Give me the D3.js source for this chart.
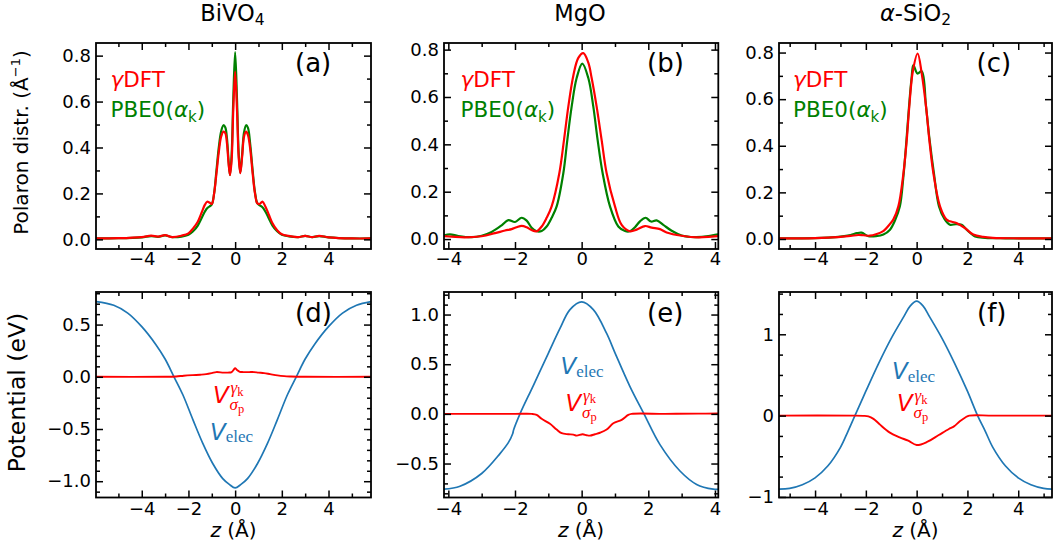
<!DOCTYPE html>
<html>
<head>
<meta charset="utf-8">
<script src="https://cdn.jsdelivr.net/npm/d3@7"></script>
<style>
  body { margin: 0; background: #fff; }
  svg { display: block; font-family: "DejaVu Sans", sans-serif; }
</style>
</head>
<body>
<svg id="fig" width="1058" height="551"></svg>
<script>
// ---------- Polaron distribution (top row), z in Å ----------
// BiVO4: both functionals sampled on the same z grid
const zBiVO4Dist = [-5.95, -5.0, -4.0, -3.6, -3.3, -3.0, -2.7, -2.3, -2.0, -1.8,
  -1.6, -1.45, -1.3, -1.2, -1.1, -1.0, -0.9, -0.8, -0.7, -0.6,
  -0.5, -0.42, -0.35, -0.28, -0.22, -0.15, -0.08, 0, 0.08, 0.15,
  0.22, 0.3, 0.38, 0.47, 0.55, 0.65, 0.75, 0.85, 0.95, 1.05,
  1.17, 1.3, 1.45, 1.6, 1.8, 2.0, 2.3, 2.7, 3.0, 3.3,
  3.6, 4.0, 5.0, 5.82];
const gammaBiVO4 = [0.004, 0.005, 0.010, 0.016, 0.012, 0.018, 0.010, 0.016, 0.026, 0.048,
  0.077, 0.113, 0.150, 0.164, 0.160, 0.154, 0.200, 0.287, 0.380, 0.447,
  0.469, 0.462, 0.418, 0.330, 0.280, 0.345, 0.563, 0.730, 0.563, 0.360,
  0.288, 0.360, 0.447, 0.469, 0.454, 0.390, 0.287, 0.200, 0.157, 0.154,
  0.164, 0.142, 0.106, 0.070, 0.040, 0.022, 0.015, 0.010, 0.015, 0.010,
  0.015, 0.009, 0.004, 0.004];
const pbe0BiVO4 = [0.004, 0.005, 0.009, 0.014, 0.011, 0.017, 0.010, 0.012, 0.020, 0.035,
  0.060, 0.090, 0.120, 0.135, 0.143, 0.152, 0.200, 0.300, 0.400, 0.470,
  0.497, 0.487, 0.440, 0.340, 0.280, 0.370, 0.610, 0.815, 0.610, 0.380,
  0.290, 0.370, 0.465, 0.497, 0.485, 0.410, 0.300, 0.205, 0.157, 0.148,
  0.140, 0.120, 0.090, 0.060, 0.035, 0.020, 0.013, 0.010, 0.015, 0.010,
  0.014, 0.009, 0.004, 0.004];

// MgO
const zMgOGamma = [-4.13, -3.9, -3.5, -3.0, -2.6, -2.3, -2.1, -1.95, -1.8, -1.65,
  -1.5, -1.35, -1.2, -1.05, -0.9, -0.67, -0.53, -0.4, -0.25, -0.1,
  0.05, 0.2, 0.3, 0.45, 0.6, 0.75, 1.0, 1.2, 1.45, 1.65,
  1.9, 2.1, 2.35, 2.55, 3.0, 3.5, 3.9, 4.1];
const gammaMgO = [0.012, 0.010, 0.007, 0.012, 0.025, 0.036, 0.042, 0.050, 0.056, 0.050,
  0.038, 0.033, 0.053, 0.090, 0.138, 0.278, 0.418, 0.559, 0.690, 0.765,
  0.785, 0.745, 0.680, 0.559, 0.418, 0.278, 0.138, 0.060, 0.033, 0.040,
  0.055, 0.048, 0.042, 0.028, 0.014, 0.007, 0.010, 0.012];
const zMgOPbe0 = [-4.13, -3.95, -3.7, -3.3, -3.0, -2.7, -2.4, -2.2, -2.0, -1.8,
  -1.65, -1.5, -1.35, -1.2, -1.05, -0.9, -0.75, -0.55, -0.43, -0.3,
  -0.15, 0.02, 0.2, 0.35, 0.48, 0.63, 0.85, 1.1, 1.3, 1.45,
  1.6, 1.75, 1.92, 2.08, 2.25, 2.45, 2.7, 3.0, 3.4, 3.8,
  4.0, 4.1];
const pbe0MgO = [0.015, 0.020, 0.013, 0.008, 0.014, 0.030, 0.058, 0.080, 0.072, 0.090,
  0.078, 0.048, 0.033, 0.034, 0.053, 0.090, 0.138, 0.278, 0.418, 0.559,
  0.680, 0.741, 0.680, 0.559, 0.418, 0.278, 0.138, 0.053, 0.034, 0.033,
  0.050, 0.075, 0.090, 0.074, 0.079, 0.060, 0.035, 0.015, 0.008, 0.012,
  0.018, 0.020];

// alpha-SiO2
const zSiO2Gamma = [-5.42, -4.5, -4.0, -3.5, -3.0, -2.6, -2.3, -2.1, -1.85, -1.6,
  -1.3, -1.1, -0.92, -0.72, -0.52, -0.39, -0.29, -0.15, 0.04, 0.2,
  0.37, 0.5, 0.66, 0.92, 1.18, 1.31, 1.57, 1.9, 2.23, 2.62,
  3.0, 4.0, 5.33];
const gammaSiO2 = [0.003, 0.003, 0.004, 0.006, 0.009, 0.013, 0.017, 0.016, 0.014, 0.020,
  0.035, 0.058, 0.083, 0.140, 0.282, 0.425, 0.568, 0.720, 0.796, 0.710,
  0.568, 0.425, 0.282, 0.140, 0.083, 0.076, 0.068, 0.047, 0.019, 0.009,
  0.005, 0.003, 0.003];
const zSiO2Pbe0 = [-5.42, -4.0, -3.5, -3.0, -2.6, -2.35, -2.17, -1.9, -1.6, -1.31,
  -1.05, -0.85, -0.66, -0.52, -0.4, -0.3, -0.2, -0.13, 0.03, 0.2,
  0.37, 0.51, 0.68, 0.88, 1.1, 1.31, 1.55, 1.77, 1.97, 2.3,
  2.7, 3.5, 5.33];
const pbe0SiO2 = [0.003, 0.004, 0.006, 0.010, 0.017, 0.025, 0.027, 0.012, 0.012, 0.019,
  0.040, 0.080, 0.140, 0.270, 0.425, 0.568, 0.690, 0.746, 0.710, 0.720,
  0.568, 0.425, 0.282, 0.140, 0.085, 0.061, 0.064, 0.061, 0.040, 0.011,
  0.005, 0.003, 0.003];

// ---------- Potentials (bottom row), eV ----------
const zBiVO4Elec = [-5.96, -5.2, -4.6, -4.0, -3.4, -3.0, -2.62, -2.24, -1.81, -1.39,
  -0.96, -0.53, -0.25, 0, 0.25, 0.53, 0.96, 1.39, 1.81, 2.24,
  2.62, 3.0, 3.4, 4.0, 4.6, 5.2, 5.82];
const elecBiVO4 = [0.72, 0.685, 0.61, 0.48, 0.31, 0.17, 0, -0.172, -0.41, -0.635,
  -0.83, -0.975, -1.03, -1.064, -1.03, -0.975, -0.83, -0.635, -0.41, -0.172,
  0, 0.17, 0.31, 0.48, 0.61, 0.685, 0.72];
const zBiVO4Sigma = [-5.96, -3.0, -2.53, -2.2, -1.81, -1.5, -1.24, -1.0, -0.81, -0.5,
  -0.3, -0.15, -0.05, 0, 0.08, 0.2, 0.35, 0.6, 0.81, 1.0,
  1.24, 1.5, 1.81, 2.1, 2.39, 3.0, 5.82];
const sigmaBiVO4 = [0, 0, 0.003, 0.010, 0.016, 0.020, 0.025, 0.035, 0.045, 0.040,
  0.040, 0.045, 0.070, 0.083, 0.065, 0.048, 0.045, 0.045, 0.045, 0.040,
  0.035, 0.025, 0.013, 0.006, 0.003, 0, 0];

const zMgOElec = [-4.13, -3.65, -3.0, -2.45, -2.2, -2.07, -2.04, -1.85, -1.45, -1.0,
  -0.65, -0.35, 0, 0.35, 0.75, 1.0, 1.45, 1.87, 2.35, 2.95,
  3.45, 3.95, 4.1];
const elecMgO = [-0.758, -0.728, -0.6, -0.4, -0.29, -0.2, -0.16, 0, 0.285, 0.61,
  0.86, 1.05, 1.128, 1.05, 0.81, 0.615, 0.275, 0, -0.31, -0.575,
  -0.71, -0.758, -0.76];
const zMgOSigma = [-4.13, -2.0, -1.5, -1.35, -1.2, -0.95, -0.75, -0.6, -0.4, -0.25,
  -0.15, 0.03, 0.15, 0.25, 0.4, 0.55, 0.75, 0.95, 1.2, 1.4,
  1.5, 2.5, 3.5, 4.1];
const sigmaMgO = [0, 0, 0, -0.01, -0.05, -0.1, -0.158, -0.195, -0.205, -0.209,
  -0.219, -0.205, -0.215, -0.219, -0.205, -0.19, -0.158, -0.094, -0.06, -0.01,
  0, 0, 0.002, 0.003];

const zSiO2Elec = [-5.42, -5.0, -4.5, -4.0, -3.5, -3.0, -2.7, -2.43, -2.0, -1.5,
  -1.0, -0.5, -0.25, 0, 0.25, 0.5, 1.0, 1.5, 2.0, 2.4,
  2.7, 3.0, 3.5, 4.0, 4.5, 5.0, 5.33];
const elecSiO2 = [-0.905, -0.895, -0.85, -0.765, -0.62, -0.39, -0.19, 0, 0.3, 0.64,
  0.95, 1.22, 1.35, 1.407, 1.35, 1.22, 0.95, 0.64, 0.3, 0,
  -0.19, -0.39, -0.62, -0.765, -0.85, -0.895, -0.905];
const zSiO2Sigma = [-5.42, -2.5, -2.1, -1.9, -1.7, -1.47, -1.07, -0.67, -0.33, 0,
  0.43, 0.87, 1.27, 1.47, 1.7, 1.93, 2.07, 3.0, 5.33];
const sigmaSiO2 = [0, 0, -0.003, -0.01, -0.04, -0.103, -0.206, -0.267, -0.309, -0.362,
  -0.321, -0.239, -0.165, -0.132, -0.07, -0.02, 0, 0, 0];

// ---------- Ticks ----------
const zTicks = [-4, -2, 0, 2, 4];
const zMinorWide = [-5, -3, -1, 1, 3, 5];
const zMinorNarrow = [-3, -1, 1, 3];
const distTicks = [0, 0.2, 0.4, 0.6, 0.8];
const distMinor = [0.1, 0.3, 0.5, 0.7];
const potBiVO4Ticks = [-1.0, -0.5, 0, 0.5];
const potBiVO4Minor = [-1.1, -0.9, -0.8, -0.7, -0.6, -0.4, -0.3, -0.2, -0.1, 0.1, 0.2, 0.3, 0.4, 0.6, 0.7, 0.8];
const potMgOTicks = [-0.5, 0, 0.5, 1.0];
const potMgOMinor = [-0.8, -0.7, -0.6, -0.4, -0.3, -0.2, -0.1, 0.1, 0.2, 0.3, 0.4, 0.6, 0.7, 0.8, 0.9, 1.1, 1.2];
const potSiO2Ticks = [-1, 0, 1];
const potSiO2Minor = [-0.75, -0.5, -0.25, 0.25, 0.5, 0.75, 1.25, 1.5];

// ---------- Drawing ----------
const RED = "#ff0000", GREEN = "#008000", BLUE = "#1f77b4";
const FONT = "DejaVu Sans, sans-serif";
const SERIF = "Liberation Serif, DejaVu Serif, serif";
const svg = d3.select("#fig");
svg.append("rect").attr("width", 1058).attr("height", 551).attr("fill", "#fff");

const cols = [{ l: 96, r: 371 }, { l: 444, r: 718.3 }, { l: 779, r: 1052 }];
const rows = [{ t: 43, b: 249 }, { t: 292, b: 497.5 }];
let clipId = 0;

function drawPanel(o) {
  const c = cols[o.col], rw = rows[o.row];
  const x = d3.scaleLinear().domain(o.xDomain).range([c.l, c.r]);
  const y = d3.scaleLinear().domain(o.yDomain).range([rw.b, rw.t]);
  const g = svg.append("g");
  const id = "clip" + (clipId++);
  g.append("clipPath").attr("id", id).append("rect")
    .attr("x", c.l).attr("y", rw.t).attr("width", c.r - c.l).attr("height", rw.b - rw.t);

  const line = d3.line().x(d => x(d[0])).y(d => y(d[1])).curve(d3.curveCatmullRom.alpha(0.5));
  const lines = g.append("g").attr("clip-path", `url(#${id})`);
  o.series.forEach(s => {
    lines.append("path").datum(d3.zip(s.z, s.v))
      .attr("d", line).attr("fill", "none")
      .attr("stroke", s.color).attr("stroke-width", s.width)
      .attr("stroke-linejoin", "round").attr("stroke-linecap", "round");
  });

  function styleAxis(sel) {
    sel.select(".domain").remove();
    sel.selectAll("line").attr("stroke", "#000").attr("stroke-width", 1.5);
    sel.attr("font-size", 18).attr("font-family", FONT);
    sel.selectAll("text").attr("fill", "#000");
  }
  const fmtX = d3.format("d");
  // bottom axis with labels
  g.append("g").attr("transform", `translate(0,${rw.b})`)
    .call(d3.axisBottom(x).tickValues(zTicks).tickSize(-7).tickSizeOuter(0)
      .tickPadding(o.row === 0 ? 3 : 4.5).tickFormat(fmtX)).call(styleAxis);
  g.append("g").attr("transform", `translate(0,${rw.b})`)
    .call(d3.axisBottom(x).tickValues(o.xMinor).tickSize(-4).tickSizeOuter(0).tickFormat("")).call(styleAxis);
  // top axis
  g.append("g").attr("transform", `translate(0,${rw.t})`)
    .call(d3.axisTop(x).tickValues(zTicks).tickSize(-7).tickSizeOuter(0).tickFormat("")).call(styleAxis);
  g.append("g").attr("transform", `translate(0,${rw.t})`)
    .call(d3.axisTop(x).tickValues(o.xMinor).tickSize(-4).tickSizeOuter(0).tickFormat("")).call(styleAxis);
  // left axis with labels
  g.append("g").attr("transform", `translate(${c.l},0)`)
    .call(d3.axisLeft(y).tickValues(o.yTicks).tickSize(-7).tickSizeOuter(0)
      .tickPadding(5).tickFormat(d3.format(o.yFmt))).call(styleAxis);
  g.append("g").attr("transform", `translate(${c.l},0)`)
    .call(d3.axisLeft(y).tickValues(o.yMinor).tickSize(-4).tickSizeOuter(0).tickFormat("")).call(styleAxis);
  // right axis
  g.append("g").attr("transform", `translate(${c.r},0)`)
    .call(d3.axisRight(y).tickValues(o.yTicks).tickSize(-7).tickSizeOuter(0).tickFormat("")).call(styleAxis);
  g.append("g").attr("transform", `translate(${c.r},0)`)
    .call(d3.axisRight(y).tickValues(o.yMinor).tickSize(-4).tickSizeOuter(0).tickFormat("")).call(styleAxis);

  g.append("rect").attr("x", c.l).attr("y", rw.t)
    .attr("width", c.r - c.l).attr("height", rw.b - rw.t)
    .attr("fill", "none").attr("stroke", "#000").attr("stroke-width", 1.8);
  return { x, y, g };
}

// top row: polaron distributions
drawPanel({ col: 0, row: 0, xDomain: [-5.96, 5.82], yDomain: [-0.042, 0.855],
  xMinor: zMinorWide, yTicks: distTicks, yMinor: distMinor, yFmt: ".1f",
  series: [{ z: zBiVO4Dist, v: pbe0BiVO4, color: GREEN, width: 2.2 },
           { z: zBiVO4Dist, v: gammaBiVO4, color: RED, width: 2.2 }] });
drawPanel({ col: 1, row: 0, xDomain: [-4.13, 4.10], yDomain: [-0.042, 0.828],
  xMinor: zMinorNarrow, yTicks: distTicks, yMinor: distMinor, yFmt: ".1f",
  series: [{ z: zMgOPbe0, v: pbe0MgO, color: GREEN, width: 2.2 },
           { z: zMgOGamma, v: gammaMgO, color: RED, width: 2.2 }] });
drawPanel({ col: 2, row: 0, xDomain: [-5.42, 5.33], yDomain: [-0.043, 0.841],
  xMinor: zMinorWide, yTicks: distTicks, yMinor: distMinor, yFmt: ".1f",
  series: [{ z: zSiO2Pbe0, v: pbe0SiO2, color: GREEN, width: 2.2 },
           { z: zSiO2Gamma, v: gammaSiO2, color: RED, width: 2.2 }] });

// bottom row: potentials
drawPanel({ col: 0, row: 1, xDomain: [-5.96, 5.82], yDomain: [-1.156, 0.812],
  xMinor: zMinorWide, yTicks: potBiVO4Ticks, yMinor: potBiVO4Minor, yFmt: ".1f",
  series: [{ z: zBiVO4Elec, v: elecBiVO4, color: BLUE, width: 1.7 },
           { z: zBiVO4Sigma, v: sigmaBiVO4, color: RED, width: 1.9 }] });
drawPanel({ col: 1, row: 1, xDomain: [-4.13, 4.10], yDomain: [-0.842, 1.227],
  xMinor: zMinorNarrow, yTicks: potMgOTicks, yMinor: potMgOMinor, yFmt: ".1f",
  series: [{ z: zMgOElec, v: elecMgO, color: BLUE, width: 1.7 },
           { z: zMgOSigma, v: sigmaMgO, color: RED, width: 1.9 }] });
drawPanel({ col: 2, row: 1, xDomain: [-5.42, 5.33], yDomain: [-1.007, 1.52],
  xMinor: zMinorWide, yTicks: potSiO2Ticks, yMinor: potSiO2Minor, yFmt: "d",
  series: [{ z: zSiO2Elec, v: elecSiO2, color: BLUE, width: 1.7 },
           { z: zSiO2Sigma, v: sigmaSiO2, color: RED, width: 1.9 }] });

// ---------- Text ----------
function text(x, y, size, fill) {
  return svg.append("text").attr("x", x).attr("y", y)
    .attr("font-size", size).attr("font-family", FONT).attr("fill", fill || "#000");
}

// column titles
let t = text(232.5, 21, 22.5).attr("text-anchor", "middle");
t.append("tspan").text("BiVO");
t.append("tspan").attr("font-size", 15.5).attr("dy", 3.5).text("4");
text(580, 21, 22.5).attr("text-anchor", "middle").text("MgO");
t = text(915.5, 21, 22.5).attr("text-anchor", "middle");
t.append("tspan").attr("font-style", "italic").text("α");
t.append("tspan").text("-SiO");
t.append("tspan").attr("font-size", 15.5).attr("dy", 3.5).text("2");

// legends
[110.5, 460.5, 793].forEach(lx => {
  const a = text(lx, 87, 21.5, RED);
  a.append("tspan").attr("font-style", "italic").text("γ");
  a.append("tspan").text("DFT");
  const b = text(lx, 116.7, 21.5, GREEN);
  b.append("tspan").text("PBE0(");
  b.append("tspan").attr("font-style", "italic").text("α");
  b.append("tspan").attr("font-size", 15).attr("dy", 5).text("k");
  b.append("tspan").attr("dy", -5).text(")");
});

// panel letters
[["(a)", 295, 72], ["(b)", 647, 72], ["(c)", 976.5, 72],
 ["(d)", 295, 321.5], ["(e)", 647, 321.5], ["(f)", 977, 321.5]].forEach(([s, px, py]) => {
  text(px, py, 26).text(s);
});

// y-axis labels
t = text(0, 0, 20).attr("text-anchor", "middle").attr("transform", "translate(28,142.5) rotate(-90)");
t.append("tspan").text("Polaron distr. (Å");
t.append("tspan").attr("font-size", 13).attr("dy", -8).text("−1");
t.append("tspan").attr("dy", 8).text(")");
text(0, 0, 23.5).attr("text-anchor", "middle").attr("transform", "translate(25,392.5) rotate(-90)")
  .text("Potential (eV)");

// x-axis labels
[233.5, 581, 915.5].forEach(cx => {
  const s = text(cx, 537, 20).attr("text-anchor", "middle");
  s.append("tspan").attr("font-style", "italic").text("z");
  s.append("tspan").text(" (Å)");
});

// potential annotations
function velec(x, y) {
  const s = text(x, y, 23, BLUE);
  s.append("tspan").attr("font-style", "italic").text("V");
  s.append("tspan").attr("font-family", SERIF).attr("font-size", 17).attr("dy", 2.5).text("elec");
}
function vsigma(x, y) {
  text(x, y, 23, RED).attr("font-style", "italic").text("V");
  const sup = text(x + 17.5, y - 10, 17, RED).attr("font-family", SERIF);
  sup.append("tspan").attr("font-style", "italic").text("γ");
  sup.append("tspan").attr("font-size", 12.5).attr("dy", 2.5).text("k");
  const sub = text(x + 16.5, y + 7, 17, RED).attr("font-family", SERIF);
  sub.append("tspan").attr("font-style", "italic").text("σ");
  sub.append("tspan").attr("font-size", 12.5).attr("dy", 3).text("p");
}
vsigma(213, 403);
velec(210, 439.7);
velec(560.5, 374);
vsigma(565.5, 410.7);
velec(892, 379.3);
vsigma(897, 411);
</script>
</body>
</html>
